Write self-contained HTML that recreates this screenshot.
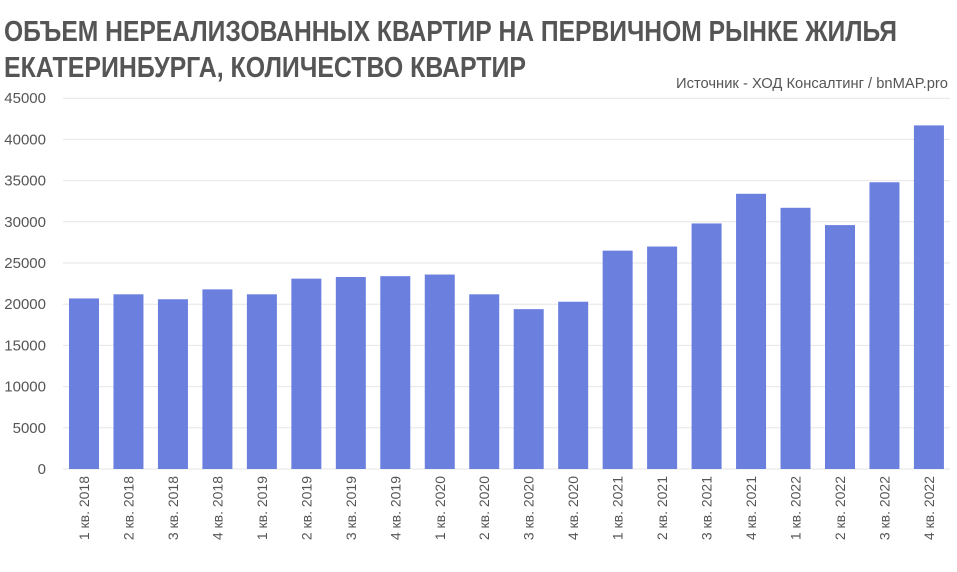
<!DOCTYPE html><html><head><meta charset="utf-8"><style>body{margin:0;background:#fff}svg{display:block}</style></head><body>
<svg width="957" height="572" xmlns="http://www.w3.org/2000/svg" font-family="'Liberation Sans Narrow','Liberation Sans',sans-serif">
<text x="4" y="41" font-size="29" font-weight="bold" fill="#555" textLength="893" lengthAdjust="spacingAndGlyphs">ОБЪЕМ НЕРЕАЛИЗОВАННЫХ КВАРТИР НА ПЕРВИЧНОМ РЫНКЕ ЖИЛЬЯ</text>
<text x="4" y="77" font-size="29" font-weight="bold" fill="#555" textLength="522" lengthAdjust="spacingAndGlyphs">ЕКАТЕРИНБУРГА, КОЛИЧЕСТВО КВАРТИР</text>
<text x="948" y="88" font-size="15" fill="#555" text-anchor="end" textLength="272" lengthAdjust="spacingAndGlyphs">Источник - ХОД Консалтинг / bnMAP.pro</text>
<g id="grid" stroke="#e6e6e6" stroke-width="1"></g>
<g id="ylab" font-size="15" fill="#555" text-anchor="end"></g>
<g id="bars" fill="#6b7fdf"></g>
<g id="xlab" font-size="14" fill="#555"></g>
<script>
var ns="http://www.w3.org/2000/svg";
function el(p,t,a,txt){var e=document.createElementNS(ns,t);for(var k in a)e.setAttribute(k,a[k]);if(txt)e.textContent=txt;document.getElementById(p).appendChild(e);}
function Y(v){return 469-v*41.2/5000;}
for(var i=0;i<=9;i++){var y=Y(i*5000);el('grid','line',{x1:63,x2:950,y1:y,y2:y});el('ylab','text',{x:46,y:y+5},String(i*5000));}
var v=[20700,21200,20600,21800,21200,23100,23300,23400,23600,21200,19400,20300,26500,27000,29800,33400,31700,29600,34800,41700];
for(var i=0;i<20;i++){var cx=84+i*44.47;el('bars','rect',{x:cx-15,y:Y(v[i]),width:30,height:469-Y(v[i])});
var q=(i%4)+1,yr=2018+Math.floor(i/4);el('xlab','text',{transform:'translate('+(cx+5)+',476) rotate(-90)','text-anchor':'end'},q+' кв. '+yr);}
</script>
</svg></body></html>
